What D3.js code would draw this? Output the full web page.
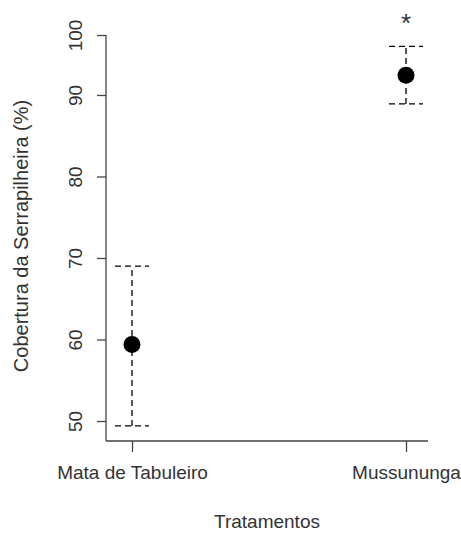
<!DOCTYPE html>
<html>
<head>
<meta charset="utf-8">
<script src="https://cdn.jsdelivr.net/npm/d3@7"></script>
<style>
  body { margin: 0; background: #fff; }
  text { font-family: Arial, "Liberation Sans", sans-serif; fill: #333; }
</style>
</head>
<body>
<div id="chart"></div>
<script>
// data
let categories = ['Mata de Tabuleiro', 'Mussununga'];
let means = [59.4, 93.3];
let lower = [49.4, 88.9];
let upper = [69.0, 98.1];
let marks = ['', '*'];
let yTicks = [50, 60, 70, 80, 90, 100];

let width = 461, height = 533;

let svg = d3.select('#chart')
    .append('svg')
    .attr('width', width).attr('height', height);

// the printed axis is not evenly spaced between 90 and 100
let y = d3.scaleLinear()
    .domain([50, 90, 100])
    .range([421, 95, 35]);

let x = d3.scalePoint()
    .domain(categories)
    .range([132, 406]);

let axisColor = '#444';

// y axis
let yAxis = svg.append('g')
    .attr('transform', 'translate(106,0)')
    .call(d3.axisLeft(y).tickValues(yTicks).tickSize(9));
yAxis.select('.domain').remove();
yAxis.append('line')
    .attr('x1', 0).attr('x2', 0)
    .attr('y1', y(100)).attr('y2', 441)
    .attr('stroke', axisColor).attr('stroke-width', 1.3);
yAxis.selectAll('.tick line').attr('stroke', axisColor).attr('stroke-width', 1.3);
yAxis.selectAll('.tick text')
    .attr('x', 0)
    .attr('dy', null)
    .attr('transform', 'translate(-31,0) rotate(-90)')
    .attr('text-anchor', 'middle')
    .attr('dominant-baseline', 'central')
    .style('font-size', '19px')
    .style('font-family', 'Arial, "Liberation Sans", sans-serif')
    .attr('fill', '#333');

// x axis
let xAxis = svg.append('g')
    .attr('transform', 'translate(0,441)')
    .call(d3.axisBottom(x).tickSize(11).tickPadding(14));
xAxis.select('.domain').remove();
xAxis.append('line')
    .attr('x1', 106).attr('x2', 428)
    .attr('y1', 0).attr('y2', 0)
    .attr('stroke', axisColor).attr('stroke-width', 1.3);
xAxis.selectAll('.tick line').attr('stroke', axisColor).attr('stroke-width', 1.3);
xAxis.selectAll('.tick text')
    .style('font-size', '19px')
    .style('font-family', 'Arial, "Liberation Sans", sans-serif')
    .attr('fill', '#333');

// axis titles
svg.append('text')
    .attr('x', 267).attr('y', 528)
    .attr('text-anchor', 'middle')
    .style('font-size', '19px')
    .text('Tratamentos');

svg.append('text')
    .attr('transform', 'translate(28,236) rotate(-90)')
    .attr('text-anchor', 'middle')
    .style('font-size', '20px')
    .text('Cobertura da Serrapilheira (%)');

// error bars
let bars = svg.append('g');
bars.selectAll('line.whisker')
    .data(categories)
    .enter()
    .append('line')
    .attr('class', 'whisker')
    .attr('x1', d => x(d)).attr('x2', d => x(d))
    .attr('y1', (d, i) => y(lower[i]))
    .attr('y2', (d, i) => y(upper[i]))
    .attr('stroke', '#000').attr('stroke-width', 1.3)
    .attr('stroke-dasharray', '6,4');

[lower, upper].forEach(arr => {
    bars.selectAll(null)
        .data(categories)
        .enter()
        .append('line')
        .attr('x1', d => x(d) - 17).attr('x2', d => x(d) + 17)
        .attr('y1', (d, i) => y(arr[i]))
        .attr('y2', (d, i) => y(arr[i]))
        .attr('stroke', '#000').attr('stroke-width', 1.3)
        .attr('stroke-dasharray', '6,4');
});

// means
svg.append('g').selectAll('circle')
    .data(categories)
    .enter()
    .append('circle')
    .attr('cx', d => x(d))
    .attr('cy', (d, i) => y(means[i]))
    .attr('r', 8.5)
    .attr('fill', '#000');

// significance marks
svg.append('g').selectAll('text')
    .data(categories)
    .enter()
    .append('text')
    .attr('x', d => x(d))
    .attr('y', (d, i) => y(upper[i]) - 14)
    .attr('text-anchor', 'middle')
    .style('font-size', '26px')
    .attr('fill', '#000')
    .text((d, i) => marks[i]);
</script>
</body>
</html>
